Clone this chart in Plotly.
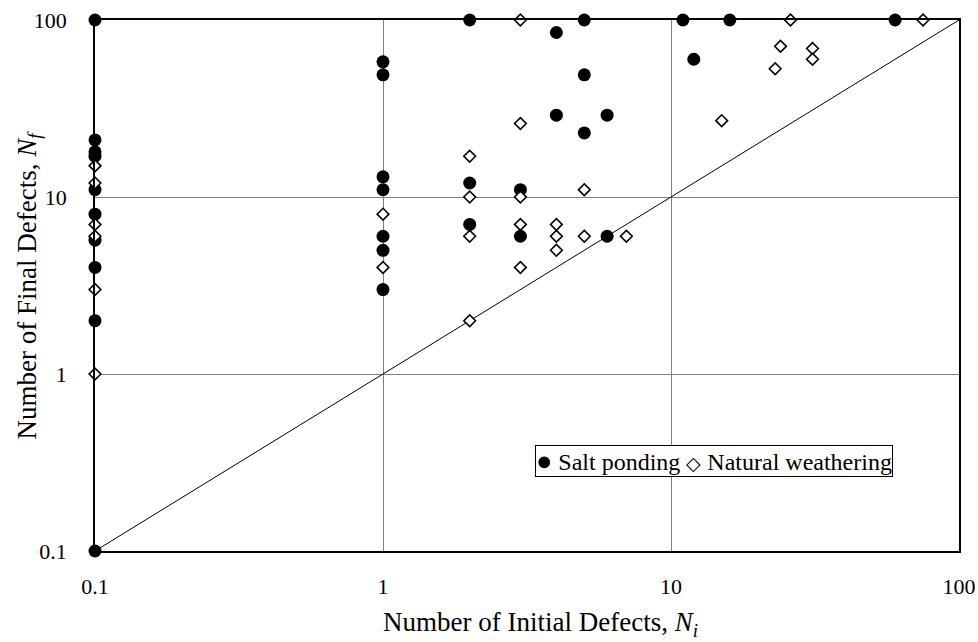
import plotly.graph_objects as go

# Salt ponding (filled circles)
salt_x = [0.1, 0.1, 0.1, 0.1, 0.1, 0.1, 0.1, 0.1, 0.1, 0.1,
          1, 1, 1, 1, 1, 1, 1,
          2, 2, 2,
          3, 3,
          4, 4,
          5, 5, 5,
          6, 6,
          11, 12, 16, 60]
salt_y = [100, 21, 18, 17, 11, 8, 5.7, 4, 2, 0.1,
          58, 49, 13, 11, 6, 5, 3,
          100, 12, 7,
          11, 6,
          85, 29,
          100, 49, 23,
          29, 6,
          100, 60, 100, 100]

# Natural weathering (open diamonds)
nat_x = [0.1, 0.1, 0.1, 0.1, 0.1, 0.1,
         1, 1,
         2, 2, 2, 2,
         3, 3, 3, 3, 3,
         4, 4, 4,
         5, 5,
         7, 15, 23, 24, 26, 31, 31, 75]
nat_y = [15, 12, 7, 6, 3, 1,
         8, 4,
         17, 10, 6, 2,
         100, 26, 10, 7, 4,
         7, 6, 5,
         11, 6,
         6, 27, 53, 71, 100, 69, 60, 100]

# 1:1 reference line
diag_x = [0.1, 100]
diag_y = [0.1, 100]

tick_vals = [0.1, 1, 10, 100]
tick_text = ["0.1", "1", "10", "100"]

series_names = ["Salt ponding", "Natural weathering"]
x_title = "Number of Initial Defects, <i>N</i><sub><i>i</i></sub>"
y_title = "Number of Final Defects, <i>N</i><sub><i>f</i></sub>"

FONT = "Liberation Serif"

fig = go.Figure()
fig.add_trace(go.Scatter(x=diag_x, y=diag_y, mode="lines",
                         line=dict(color="black", width=1),
                         showlegend=False, hoverinfo="skip"))
fig.add_trace(go.Scatter(x=salt_x, y=salt_y, mode="markers", name=series_names[0],
                         marker=dict(symbol="circle", size=13, color="black",
                                     line=dict(width=0)),
                         cliponaxis=False, showlegend=False))
fig.add_trace(go.Scatter(x=nat_x, y=nat_y, mode="markers", name=series_names[1],
                         marker=dict(symbol="diamond", size=9, color="white",
                                     line=dict(color="black", width=1.6)),
                         cliponaxis=False, showlegend=False))

axis_common = dict(
    type="log", range=[-1, 2],
    tickvals=tick_vals, ticktext=tick_text,
    showgrid=True, gridcolor="#808080", gridwidth=1,
    showline=True, linecolor="black", linewidth=1.5, mirror=True,
    ticks="", zeroline=False, automargin=False,
    tickfont=dict(family=FONT, size=22, color="black"),
)

# legend drawn as a boxed text line (symbols as glyphs)
legend_text = ('<span style="font-size:27px">\u25cf</span> ' + series_names[0]
               + ' <span style="font-size:19px">\u25c7</span> ' + series_names[1])

fig.update_layout(
    width=978, height=642,
    margin=dict(l=95, r=19, t=20, b=91),
    paper_bgcolor="white", plot_bgcolor="white",
    font=dict(family=FONT, color="black"),
    xaxis=dict(**axis_common, ticklabelstandoff=15),
    yaxis=dict(**axis_common, ticklabelstandoff=22),
    showlegend=False,
    annotations=[
        dict(text=legend_text, xref="paper", yref="paper",
             x=1 - (959 - 893) / 864, y=(551 - 445) / 531,
             xanchor="right", yanchor="top", showarrow=False,
             font=dict(family=FONT, size=24, color="black"),
             bgcolor="white", bordercolor="black", borderwidth=1, borderpad=0),
        dict(text=x_title, xref="paper", yref="paper",
             x=(540 - 95) / 864, y=(551 - 624) / 531,
             xanchor="center", yanchor="middle", showarrow=False,
             font=dict(family=FONT, size=27, color="black")),
        dict(text=y_title, xref="paper", yref="paper", textangle=-90,
             x=(28 - 95) / 864, y=0.5,
             xanchor="center", yanchor="middle", showarrow=False,
             font=dict(family=FONT, size=27, color="black")),
    ],
)

fig.write_html("out.html",
               config={"displayModeBar": False},
               post_script="document.body.style.margin='0';document.body.style.overflow='hidden';")
